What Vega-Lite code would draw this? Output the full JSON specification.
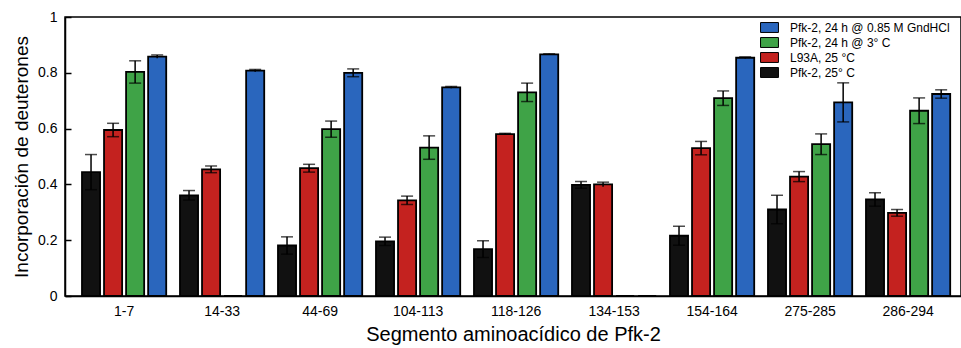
{
  "$schema": "https://vega.github.io/schema/vega-lite/v6.json",
  "width": 896,
  "height": 279,
  "autosize": {"type": "none"},
  "padding": {"left": 65, "top": 17, "right": 0, "bottom": 52},
  "background": "white",
  "config": {
    "font": "Liberation Sans",
    "view": {"stroke": "black", "strokeWidth": 1.5}
  },
  "data": {
    "values": [
      {"seg": "1-7", "series": "Pfk-2, 25° C", "value": 0.444, "err": 0.063},
      {"seg": "1-7", "series": "L93A, 25 °C", "value": 0.595, "err": 0.024},
      {"seg": "1-7", "series": "Pfk-2, 24 h @ 3° C", "value": 0.803, "err": 0.040},
      {"seg": "1-7", "series": "Pfk-2, 24 h @ 0.85 M GndHCl", "value": 0.858, "err": 0.006},
      {"seg": "14-33", "series": "Pfk-2, 25° C", "value": 0.361, "err": 0.017},
      {"seg": "14-33", "series": "L93A, 25 °C", "value": 0.454, "err": 0.012},
      {"seg": "14-33", "series": "Pfk-2, 24 h @ 3° C", "value": 0, "err": 0},
      {"seg": "14-33", "series": "Pfk-2, 24 h @ 0.85 M GndHCl", "value": 0.808, "err": 0.004},
      {"seg": "44-69", "series": "Pfk-2, 25° C", "value": 0.181, "err": 0.031},
      {"seg": "44-69", "series": "L93A, 25 °C", "value": 0.458, "err": 0.014},
      {"seg": "44-69", "series": "Pfk-2, 24 h @ 3° C", "value": 0.598, "err": 0.029},
      {"seg": "44-69", "series": "Pfk-2, 24 h @ 0.85 M GndHCl", "value": 0.800, "err": 0.014},
      {"seg": "104-113", "series": "Pfk-2, 25° C", "value": 0.196, "err": 0.015},
      {"seg": "104-113", "series": "L93A, 25 °C", "value": 0.343, "err": 0.015},
      {"seg": "104-113", "series": "Pfk-2, 24 h @ 3° C", "value": 0.532, "err": 0.042},
      {"seg": "104-113", "series": "Pfk-2, 24 h @ 0.85 M GndHCl", "value": 0.748, "err": 0.003},
      {"seg": "118-126", "series": "Pfk-2, 25° C", "value": 0.168, "err": 0.030},
      {"seg": "118-126", "series": "L93A, 25 °C", "value": 0.580, "err": 0.003},
      {"seg": "118-126", "series": "Pfk-2, 24 h @ 3° C", "value": 0.730, "err": 0.033},
      {"seg": "118-126", "series": "Pfk-2, 24 h @ 0.85 M GndHCl", "value": 0.866, "err": 0.002},
      {"seg": "134-153", "series": "Pfk-2, 25° C", "value": 0.398, "err": 0.012},
      {"seg": "134-153", "series": "L93A, 25 °C", "value": 0.400, "err": 0.008},
      {"seg": "134-153", "series": "Pfk-2, 24 h @ 3° C", "value": 0, "err": 0},
      {"seg": "134-153", "series": "Pfk-2, 24 h @ 0.85 M GndHCl", "value": 0, "err": 0},
      {"seg": "154-164", "series": "Pfk-2, 25° C", "value": 0.216, "err": 0.034},
      {"seg": "154-164", "series": "L93A, 25 °C", "value": 0.530, "err": 0.024},
      {"seg": "154-164", "series": "Pfk-2, 24 h @ 3° C", "value": 0.709, "err": 0.026},
      {"seg": "154-164", "series": "Pfk-2, 24 h @ 0.85 M GndHCl", "value": 0.854, "err": 0.003},
      {"seg": "275-285", "series": "Pfk-2, 25° C", "value": 0.310, "err": 0.051},
      {"seg": "275-285", "series": "L93A, 25 °C", "value": 0.428, "err": 0.018},
      {"seg": "275-285", "series": "Pfk-2, 24 h @ 3° C", "value": 0.544, "err": 0.037},
      {"seg": "275-285", "series": "Pfk-2, 24 h @ 0.85 M GndHCl", "value": 0.694, "err": 0.070},
      {"seg": "286-294", "series": "Pfk-2, 25° C", "value": 0.346, "err": 0.024},
      {"seg": "286-294", "series": "L93A, 25 °C", "value": 0.298, "err": 0.012},
      {"seg": "286-294", "series": "Pfk-2, 24 h @ 3° C", "value": 0.664, "err": 0.046},
      {"seg": "286-294", "series": "Pfk-2, 24 h @ 0.85 M GndHCl", "value": 0.724, "err": 0.015}
    ]
  },
  "transform": [
    {"calculate": "datum.value - datum.err", "as": "lo"},
    {"calculate": "datum.value + datum.err", "as": "hi"}
  ],
  "encoding": {
    "x": {
      "field": "seg",
      "type": "nominal",
      "sort": null,
      "scale": {"paddingInner": 0.1, "paddingOuter": 0.1215, "align": 0.63},
      "axis": {
        "title": "Segmento aminoacídico de Pfk-2",
        "titleFontSize": 20,
        "titleFontWeight": "normal",
        "titleColor": "black",
        "titlePadding": 6,
        "labelAngle": 0,
        "labelFontSize": 14,
        "labelColor": "black",
        "labelPadding": 8,
        "ticks": false,
        "domainColor": "black",
        "domainWidth": 1.5
      }
    },
    "xOffset": {
      "field": "series",
      "type": "nominal",
      "scale": {
        "domain": ["Pfk-2, 25° C", "L93A, 25 °C", "Pfk-2, 24 h @ 3° C", "Pfk-2, 24 h @ 0.85 M GndHCl"],
        "paddingInner": 0.18,
        "paddingOuter": 0.09
      }
    }
  },
  "layer": [
    {
      "mark": {"type": "bar", "stroke": "black", "strokeWidth": 1.8},
      "encoding": {
        "y": {
          "field": "value",
          "type": "quantitative",
          "scale": {"domain": [0, 1], "nice": false},
          "axis": {
            "title": "Incorporación de deuterones",
            "titleFontSize": 19,
            "titleFontWeight": "normal",
            "titleColor": "black",
            "titlePadding": 6,
            "values": [0, 0.2, 0.4, 0.6, 0.8, 1],
            "format": "~g",
            "labelFontSize": 14,
            "labelColor": "black",
            "tickSize": -6,
            "tickColor": "black",
            "tickWidth": 1.5,
            "labelPadding": 14,
            "grid": false,
            "domainColor": "black",
            "domainWidth": 1.5
          }
        },
        "color": {
          "field": "series",
          "type": "nominal",
          "scale": {
            "domain": ["Pfk-2, 24 h @ 0.85 M GndHCl", "Pfk-2, 24 h @ 3° C", "L93A, 25 °C", "Pfk-2, 25° C"],
            "range": ["#2a66bd", "#3fa347", "#c4221f", "#111111"]
          },
          "legend": {
            "title": null,
            "orient": "none",
            "legendX": 697,
            "legendY": 3,
            "symbolType": "M-1.3,-0.72H1.3V0.72H-1.3Z",
            "symbolSize": 190,
            "symbolStrokeColor": "black",
            "symbolStrokeWidth": 1,
            "labelFontSize": 12,
            "labelColor": "black",
            "labelLimit": 300,
            "labelOffset": 13,
            "rowPadding": 0,
            "symbolOffset": 0
          }
        }
      }
    },
    {
      "transform": [{"filter": "datum.err > 0"}],
      "mark": {"type": "rule", "color": "black", "strokeWidth": 1.5},
      "encoding": {
        "y": {"field": "lo", "type": "quantitative"},
        "y2": {"field": "hi"}
      }
    },
    {
      "transform": [{"filter": "datum.err > 0"}],
      "mark": {"type": "tick", "color": "black", "thickness": 1.5, "size": 12, "orient": "horizontal"},
      "encoding": {
        "y": {"field": "hi", "type": "quantitative"}
      }
    },
    {
      "transform": [{"filter": "datum.err > 0.01"}],
      "mark": {"type": "tick", "color": "black", "thickness": 1.5, "size": 12, "orient": "horizontal"},
      "encoding": {
        "y": {"field": "lo", "type": "quantitative"}
      }
    }
  ]
}
